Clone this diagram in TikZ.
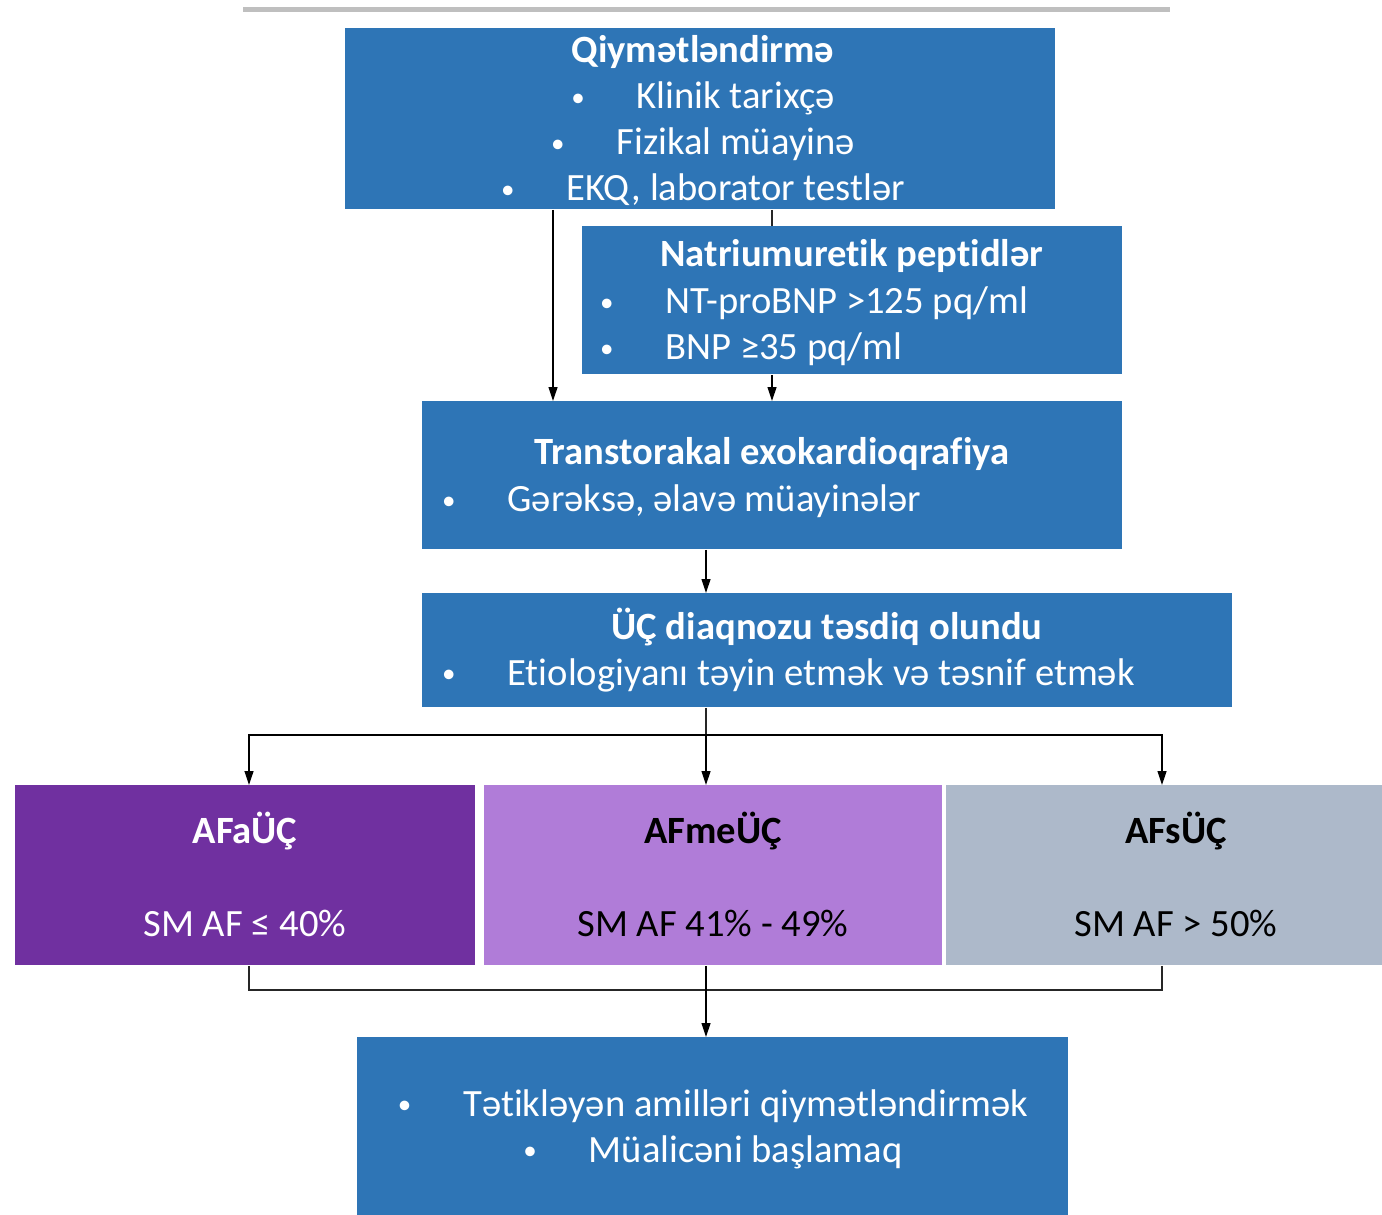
\documentclass[tikz,border=0pt]{standalone}
\usepackage{fontspec}
\setmainfont{Carlito}[Ligatures=NoCommon]
\usepackage{tikz}
\usetikzlibrary{positioning, arrows.meta}

\definecolor{boxblue}{HTML}{2E75B6}
\definecolor{afapurple}{HTML}{7030A0}
\definecolor{afmelilac}{HTML}{B07CD8}
\definecolor{afsgrey}{HTML}{ADB9CA}

\newcommand{\itm}{\raisebox{0.12ex}{\scalebox{0.7}{\textbullet}}\hspace{26pt}}

\begin{document}
\begin{tikzpicture}[x=0.5pt, y=-0.5pt]
    % Define styles
    \tikzset{
        every node/.style={font=\fontsize{19.3}{23}\selectfont, text=white},
        block/.style={rectangle, fill=boxblue, anchor=north west, inner sep=0pt},
        title/.style={font=\fontsize{19.3}{23}\selectfont\bfseries},
        arrow/.style={-{Triangle[length=7pt, width=4.5pt]}, line width=0.6pt, black},
        link/.style={line width=0.6pt, black!85}
    }
    \useasboundingbox (0,0) rectangle (1382,1215);
    \draw[line width=2.5pt, black!25] (243,9) -- (1170,9);

    % Boxes
    \node (q) [block, minimum width=355pt, minimum height=90.5pt] at (345,28) {};
    \node (n) [block, minimum width=270pt, minimum height=74pt] at (582,226) {};
    \node (t) [block, minimum width=350pt, minimum height=74pt] at (422,401) {};
    \node (d) [block, minimum width=405pt, minimum height=57pt] at (422,593) {};
    \node (a) [block, fill=afapurple, minimum width=230pt, minimum height=90pt] at (15,785) {};
    \node (b) [block, fill=afmelilac, minimum width=229pt, minimum height=90pt] at (484,785) {};
    \node (c) [block, fill=afsgrey, minimum width=218pt, minimum height=90pt] at (946,785) {};
    \node (e) [block, minimum width=355.5pt, minimum height=89pt] at (357,1037) {};

    % Texts
    \node (qt) [align=center] at (703,121) {\textbf{Qiymətləndirmə}\\ \itm Klinik tarixçə\\ \itm Fizikal müayinə\\ \itm EKQ, laborator testlər};
    \node (nt) [title] at (852,256) {Natriumuretik peptidlər};
    \node (nl) [anchor=west, align=left] at (593,326) {\itm NT-proBNP >125 pq/ml\\ \itm BNP ≥35 pq/ml};
    \node (tt) [title] at (772,454) {Transtorakal exokardioqrafiya};
    \node (tl) [anchor=west] at (435,501) {\itm Gərəksə, əlavə müayinələr};
    \node (dt) [title] at (827,627) {ÜÇ diaqnozu təsdiq olundu};
    \node (dl) [anchor=west] at (435,675) {\itm Etiologiyanı təyin etmək və təsnif etmək};
    \node (at) [title] at (245,831) {AFaÜÇ};
    \node (av) at (245,923) {SM AF ≤ 40\%};
    \node (bt) [title, text=black] at (713,831) {AFmeÜÇ};
    \node (bv) [text=black] at (713,923) {SM AF 41\% - 49\%};
    \node (ct) [title, text=black] at (1176,831) {AFsÜÇ};
    \node (cv) [text=black] at (1176,923) {SM AF > 50\%};
    \node (et) [align=center] at (713,1129) {\itm Tətikləyən amilləri qiymətləndirmək\\ \itm Müalicəni başlamaq};

    % Helper coordinates
    \coordinate (c1) at (553,0);
    \coordinate (c2) at (772,0);
    \coordinate (ca) at (249,0);
    \coordinate (cc) at (1162,0);
    \coordinate (fork) at (706,735);
    \coordinate (join) at (706,990);

    % Arrows between nodes
    \draw [arrow] (q.south -| c1) -- (t.north -| c1);
    \draw [link] (q.south -| c2) -- (n.north -| c2);
    \draw [arrow] (n.south -| c2) -- (t.north -| c2);
    \draw [arrow] (t.south -| fork) -- (d.north -| fork);
    \draw [link] (d.south -| fork) -- (fork);
    \draw [arrow] (fork) -- (b.north -| fork);
    \draw [arrow] (fork) -| (a.north -| ca);
    \draw [arrow] (fork) -| (c.north -| cc);
    \draw [link] (a.south -| ca) |- (join);
    \draw [link] (c.south -| cc) |- (join);
    \draw [arrow] (b.south -| join) -- (e.north -| join);

\end{tikzpicture}
\end{document}
